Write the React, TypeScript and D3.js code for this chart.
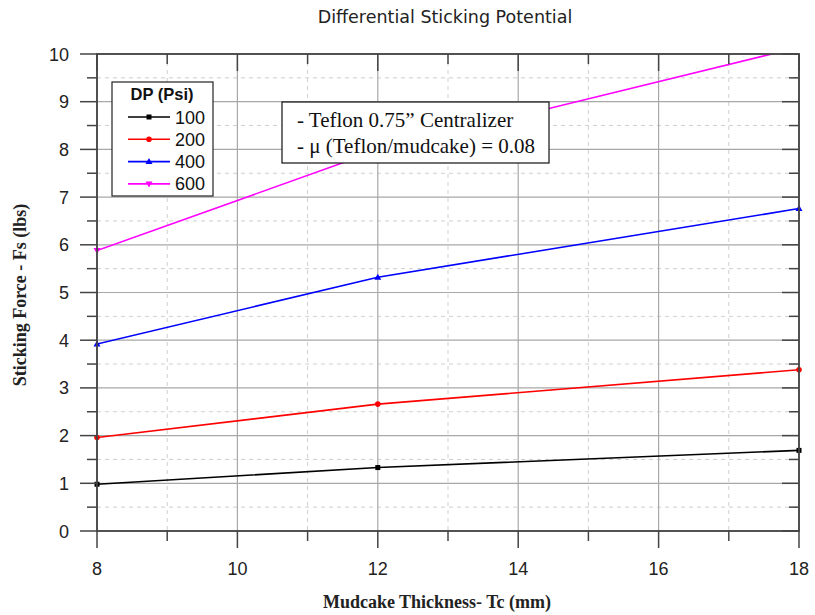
import React from "react";
import * as d3 from "d3";

const xValues = [8, 12, 18];
const seriesNames = ["100", "200", "400", "600"];
const series100 = [0.98, 1.33, 1.69];
const series200 = [1.96, 2.66, 3.38];
const series400 = [3.92, 5.32, 6.76];
const series600 = [5.88, 7.98, 10.14];
const seriesColors = ["#000000", "#ff0000", "#0000ff", "#ff00ff"];
const seriesMarkers = ["square", "circle", "triangleUp", "triangleDown"];
const xTicks = [8, 10, 12, 14, 16, 18];
const yTicks = [0, 1, 2, 3, 4, 5, 6, 7, 8, 9, 10];
const xMinor = [9, 11, 13, 15, 17];
const yMinor = [0.5, 1.5, 2.5, 3.5, 4.5, 5.5, 6.5, 7.5, 8.5, 9.5];

const W = 815, H = 615;
const left = 97, right = 799, top = 54, bottom = 531;

function Marker({ type, x, y, color }: { type: string; x: number; y: number; color: string }) {
  if (type === "square") return <rect x={x - 2.5} y={y - 2.5} width={5} height={5} fill={color} />;
  if (type === "circle") return <circle cx={x} cy={y} r={2.8} fill={color} />;
  if (type === "triangleUp") return <path d={`M${x},${y - 3.5}L${x + 3.5},${y + 2.5}L${x - 3.5},${y + 2.5}Z`} fill={color} />;
  return <path d={`M${x},${y + 3.5}L${x + 3.5},${y - 2.5}L${x - 3.5},${y - 2.5}Z`} fill={color} />;
}

export default function App() {
  const x = d3.scaleLinear().domain([8, 18]).range([left, right]);
  const y = d3.scaleLinear().domain([0, 10]).range([bottom, top]);
  const allSeries = [series100, series200, series400, series600];
  const line = d3.line<number>().x((_, i) => x(xValues[i])).y((d) => y(d));
  const frame = "#444";
  const sans = "Liberation Sans, Arial, sans-serif";
  const serif = "Liberation Serif, Times New Roman, serif";
  return (
    <svg width={W} height={H} style={{ position: "absolute", left: 0, top: 0, background: "#fff" }}>
      <defs>
        <clipPath id="plot">
          <rect x={left} y={top} width={right - left} height={bottom - top} />
        </clipPath>
      </defs>
      <text x={445} y={23} textAnchor="middle" fontFamily="DejaVu Sans, Verdana, sans-serif" fontSize={17.5} fill="#222">
        Differential Sticking Potential
      </text>
      {xMinor.map((v) => (
        <line key={"xm" + v} x1={x(v)} x2={x(v)} y1={top} y2={bottom} stroke="#cfcfcf" strokeDasharray="4,4" />
      ))}
      {yMinor.map((v) => (
        <line key={"ym" + v} x1={left} x2={right} y1={y(v)} y2={y(v)} stroke="#cfcfcf" strokeDasharray="4,4" />
      ))}
      {xTicks.map((v) => (
        <line key={"xg" + v} x1={x(v)} x2={x(v)} y1={top} y2={bottom} stroke="#a8a8a8" strokeWidth={1.2} />
      ))}
      {yTicks.map((v) => (
        <line key={"yg" + v} x1={left} x2={right} y1={y(v)} y2={y(v)} stroke="#a8a8a8" strokeWidth={1.2} />
      ))}
      <g clipPath="url(#plot)">
        {allSeries.map((s, i) => (
          <path key={"l" + i} d={line(s) || ""} fill="none" stroke={seriesColors[i]} strokeWidth={1.6} />
        ))}
      </g>
      {allSeries.map((s, i) =>
        s.map((v, j) =>
          v <= 10 ? <Marker key={`m${i}-${j}`} type={seriesMarkers[i]} x={x(xValues[j])} y={y(v)} color={seriesColors[i]} /> : null
        )
      )}
      <rect x={left} y={top} width={right - left} height={bottom - top} fill="none" stroke={frame} strokeWidth={1.8} />
      {xTicks.map((v) => (
        <g key={"xt" + v}>
          <line x1={x(v)} x2={x(v)} y1={bottom} y2={bottom + 17} stroke={frame} strokeWidth={1.5} />
          <line x1={x(v)} x2={x(v)} y1={top} y2={top + 17} stroke={frame} strokeWidth={1.5} />
          <text x={x(v)} y={575} textAnchor="middle" fontFamily={sans} fontSize={18} fill="#222">
            {v}
          </text>
        </g>
      ))}
      {xMinor.map((v) => (
        <g key={"xmt" + v}>
          <line x1={x(v)} x2={x(v)} y1={bottom} y2={bottom + 10} stroke={frame} strokeWidth={1.5} />
          <line x1={x(v)} x2={x(v)} y1={top} y2={top + 10} stroke={frame} strokeWidth={1.5} />
        </g>
      ))}
      {yTicks.map((v) => (
        <g key={"yt" + v}>
          <line x1={left - 17} x2={left} y1={y(v)} y2={y(v)} stroke={frame} strokeWidth={1.5} />
          <line x1={right - 17} x2={right} y1={y(v)} y2={y(v)} stroke={frame} strokeWidth={1.5} />
          <text x={69} y={y(v) + 6.5} textAnchor="end" fontFamily={sans} fontSize={18} fill="#222">
            {v}
          </text>
        </g>
      ))}
      {yMinor.map((v) => (
        <g key={"ymt" + v}>
          <line x1={left - 10} x2={left} y1={y(v)} y2={y(v)} stroke={frame} strokeWidth={1.5} />
          <line x1={right - 10} x2={right} y1={y(v)} y2={y(v)} stroke={frame} strokeWidth={1.5} />
        </g>
      ))}
      <text x={437} y={608} textAnchor="middle" fontFamily={serif} fontWeight="bold" fontSize={18} fill="#222">
        Mudcake Thickness- Tc (mm)
      </text>
      <text transform="translate(26,295) rotate(-90)" textAnchor="middle" fontFamily={serif} fontWeight="bold" fontSize={18} fill="#222">
        Sticking Force - Fs (lbs)
      </text>
      <rect x={112} y={82} width={101} height={114} fill="#fff" stroke="#222" strokeWidth={1.2} />
      <text x={162} y={100} textAnchor="middle" fontFamily={sans} fontWeight="bold" fontSize={16.5} fill="#111">
        DP (Psi)
      </text>
      {seriesNames.map((n, i) => {
        const ly = 117 + i * 22.3;
        return (
          <g key={"lg" + n}>
            <line x1={128} x2={170} y1={ly} y2={ly} stroke={seriesColors[i]} strokeWidth={1.6} />
            <Marker type={seriesMarkers[i]} x={149} y={ly} color={seriesColors[i]} />
            <text x={175} y={ly + 6.5} fontFamily={sans} fontSize={18} fill="#111">
              {n}
            </text>
          </g>
        );
      })}
      <rect x={282} y={102} width={267} height={61} fill="#fff" stroke="#111" strokeWidth={1.2} />
      <text x={297} y={127} fontFamily={serif} fontSize={21} fill="#111">
        - Teflon 0.75” Centralizer
      </text>
      <text x={297} y={153} fontFamily={serif} fontSize={21} fill="#111">
        - μ (Teflon/mudcake) = 0.08
      </text>
    </svg>
  );
}
